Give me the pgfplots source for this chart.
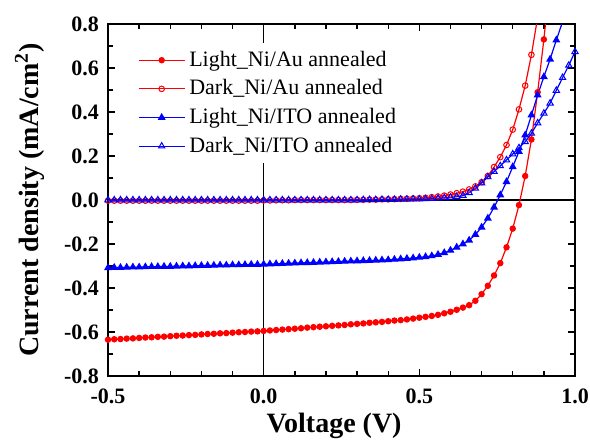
\documentclass[border=0pt]{standalone}
\usepackage{pgfplots}
\pgfplotsset{compat=1.18}
\usepackage{fontspec}
\setmainfont{Liberation Serif}

\begin{document}
\begin{tikzpicture}
\begin{axis}[
    scale only axis,
    width=233.5pt, height=176pt,
    xmin=-0.5, xmax=1.0, ymin=-0.8, ymax=0.8,
    xtick={-0.5,0,0.5,1.0}, minor x tick num=4,
    xticklabels={-0.5,0.0,0.5,1.0},
    ytick={-0.8,-0.6,-0.4,-0.2,0,0.2,0.4,0.6,0.8}, minor y tick num=1,
    yticklabels={-0.8,-0.6,-0.4,-0.2,0.0,0.2,0.4,0.6,0.8},
    tick align=inside,
    major tick length=3.5pt, minor tick length=2.5pt,
    axis line style={line width=0.9pt},
    every tick/.style={black, line width=0.7pt},
    ticklabel style={font=\fontsize{11}{13}\selectfont\bfseries},
    xticklabel style={yshift=-3pt},
    yticklabel style={xshift=-1pt},
    xlabel={Voltage (V)},
    ylabel={Current density (mA/cm\textsuperscript{2})},
    label style={font=\fontsize{14}{16}\selectfont\bfseries},
    xlabel style={at={(rel axis cs:0.484,-0.143)}, anchor=center},
    ylabel style={at={(rel axis cs:-0.168,0.5)}, anchor=center},
    legend cell align=left,
    legend style={at={(rel axis cs:0.055,0.947)}, anchor=north west, draw=none, fill=white,
        font=\fontsize{11}{13}\selectfont, row sep=1.2pt, inner sep=2pt},
    legend image code/.code={\draw[mark repeat=2,mark phase=2] plot coordinates {(0pt,0pt) (11.5pt,0pt) (23pt,0pt)};},
]
\draw[black, line width=0.6pt] (axis cs:0,-0.8) -- (axis cs:0,0.8);
\draw[black, line width=0.6pt] (axis cs:-0.5,0) -- (axis cs:1.0,0);

% Light Ni/Au annealed
\addplot[red, line width=0.6pt, mark=*, mark size=1.3pt] table {
-0.50 -0.635
-0.48 -0.633
-0.46 -0.632
-0.44 -0.630
-0.42 -0.629
-0.40 -0.627
-0.38 -0.625
-0.36 -0.624
-0.34 -0.622
-0.32 -0.621
-0.30 -0.619
-0.28 -0.617
-0.26 -0.616
-0.24 -0.614
-0.22 -0.613
-0.20 -0.611
-0.18 -0.609
-0.16 -0.608
-0.14 -0.606
-0.12 -0.605
-0.10 -0.603
-0.08 -0.601
-0.06 -0.600
-0.04 -0.598
-0.02 -0.597
0.00 -0.595
0.02 -0.593
0.04 -0.591
0.06 -0.589
0.08 -0.587
0.10 -0.585
0.12 -0.583
0.14 -0.580
0.16 -0.578
0.18 -0.576
0.20 -0.574
0.22 -0.572
0.24 -0.570
0.26 -0.568
0.28 -0.565
0.30 -0.563
0.32 -0.561
0.34 -0.558
0.36 -0.556
0.38 -0.554
0.40 -0.551
0.42 -0.548
0.44 -0.546
0.46 -0.543
0.48 -0.539
0.50 -0.535
0.52 -0.531
0.54 -0.527
0.56 -0.522
0.58 -0.515
0.60 -0.508
0.62 -0.499
0.64 -0.489
0.66 -0.478
0.68 -0.458
0.70 -0.428
0.72 -0.390
0.74 -0.343
0.76 -0.287
0.78 -0.215
0.80 -0.130
0.82 -0.023
0.84 0.109
0.86 0.275
0.88 0.490
0.90 0.730
0.92 1.000
};
\addlegendentry{Light\_Ni/Au annealed}

% Dark Ni/Au annealed
\addplot[red, line width=0.6pt, mark=o, mark size=1.4pt, mark options={line width=0.5pt}] table {
-0.50 -0.003
-0.48 -0.003
-0.46 -0.003
-0.44 -0.003
-0.42 -0.003
-0.40 -0.003
-0.38 -0.003
-0.36 -0.003
-0.34 -0.003
-0.32 -0.003
-0.30 -0.003
-0.28 -0.003
-0.26 -0.003
-0.24 -0.003
-0.22 -0.003
-0.20 -0.003
-0.18 -0.003
-0.16 -0.003
-0.14 -0.003
-0.12 -0.003
-0.10 -0.003
-0.08 -0.003
-0.06 -0.003
-0.04 -0.003
-0.02 -0.003
0.00 -0.002
0.02 -0.002
0.04 -0.001
0.06 -0.001
0.08 -0.001
0.10 0.000
0.12 0.000
0.14 0.000
0.16 0.000
0.18 0.000
0.20 0.000
0.22 0.000
0.24 0.000
0.26 0.000
0.28 0.000
0.30 0.001
0.32 0.001
0.34 0.002
0.36 0.002
0.38 0.003
0.40 0.003
0.42 0.004
0.44 0.005
0.46 0.006
0.48 0.007
0.50 0.008
0.52 0.010
0.54 0.013
0.56 0.016
0.58 0.020
0.60 0.025
0.62 0.031
0.64 0.038
0.66 0.048
0.68 0.062
0.70 0.081
0.72 0.109
0.74 0.150
0.76 0.195
0.78 0.250
0.80 0.320
0.82 0.412
0.84 0.520
0.86 0.660
0.88 0.830
};
\addlegendentry{Dark\_Ni/Au annealed}

% Light Ni/ITO annealed
\addplot[blue, line width=0.6pt, mark=triangle*, mark size=1.7pt] table {
-0.50 -0.308
-0.48 -0.307
-0.46 -0.307
-0.44 -0.306
-0.42 -0.305
-0.40 -0.305
-0.38 -0.304
-0.36 -0.303
-0.34 -0.303
-0.32 -0.302
-0.30 -0.302
-0.28 -0.301
-0.26 -0.300
-0.24 -0.300
-0.22 -0.299
-0.20 -0.298
-0.18 -0.298
-0.16 -0.297
-0.14 -0.296
-0.12 -0.296
-0.10 -0.295
-0.08 -0.295
-0.06 -0.294
-0.04 -0.293
-0.02 -0.293
0.00 -0.292
0.02 -0.291
0.04 -0.290
0.06 -0.289
0.08 -0.288
0.10 -0.287
0.12 -0.286
0.14 -0.285
0.16 -0.284
0.18 -0.283
0.20 -0.282
0.22 -0.281
0.24 -0.280
0.26 -0.279
0.28 -0.278
0.30 -0.277
0.32 -0.276
0.34 -0.275
0.36 -0.274
0.38 -0.273
0.40 -0.272
0.42 -0.270
0.44 -0.268
0.46 -0.266
0.48 -0.264
0.50 -0.261
0.52 -0.258
0.54 -0.254
0.56 -0.248
0.58 -0.240
0.60 -0.229
0.62 -0.215
0.64 -0.200
0.66 -0.183
0.68 -0.157
0.70 -0.124
0.72 -0.083
0.74 -0.033
0.76 0.023
0.78 0.083
0.80 0.151
0.82 0.220
0.84 0.295
0.86 0.386
0.88 0.477
0.90 0.560
0.92 0.640
0.94 0.727
0.96 0.810
};
\addlegendentry{Light\_Ni/ITO annealed}

% Dark Ni/ITO annealed
\addplot[blue, line width=0.6pt, mark=triangle, mark size=1.8pt, mark options={line width=0.5pt}] table {
-0.50 0.000
-0.48 0.000
-0.46 0.000
-0.44 0.000
-0.42 0.000
-0.40 0.000
-0.38 0.000
-0.36 0.000
-0.34 0.000
-0.32 0.000
-0.30 0.000
-0.28 0.000
-0.26 0.000
-0.24 0.000
-0.22 0.000
-0.20 0.000
-0.18 0.000
-0.16 0.000
-0.14 0.000
-0.12 0.000
-0.10 0.000
-0.08 0.000
-0.06 0.000
-0.04 0.000
-0.02 0.000
0.00 0.000
0.02 0.000
0.04 0.000
0.06 0.000
0.08 0.000
0.10 0.000
0.12 0.000
0.14 0.000
0.16 0.000
0.18 0.000
0.20 0.000
0.22 0.000
0.24 0.000
0.26 0.000
0.28 0.000
0.30 0.000
0.32 0.001
0.34 0.001
0.36 0.001
0.38 0.002
0.40 0.002
0.42 0.002
0.44 0.003
0.46 0.003
0.48 0.004
0.50 0.004
0.52 0.005
0.54 0.006
0.56 0.008
0.58 0.010
0.60 0.012
0.62 0.015
0.64 0.020
0.66 0.033
0.68 0.053
0.70 0.077
0.72 0.105
0.74 0.129
0.76 0.155
0.78 0.182
0.80 0.209
0.82 0.237
0.84 0.265
0.86 0.303
0.88 0.350
0.90 0.394
0.92 0.440
0.94 0.498
0.96 0.556
0.98 0.612
1.00 0.674
};
\addlegendentry{Dark\_Ni/ITO annealed}

\coordinate (bl) at (rel axis cs:-0.2313,-0.1818);
\coordinate (tr) at (rel axis cs:1.0321,1.0682);
\end{axis}
\pgfresetboundingbox
\path (bl) rectangle (tr);
\end{tikzpicture}
\end{document}
